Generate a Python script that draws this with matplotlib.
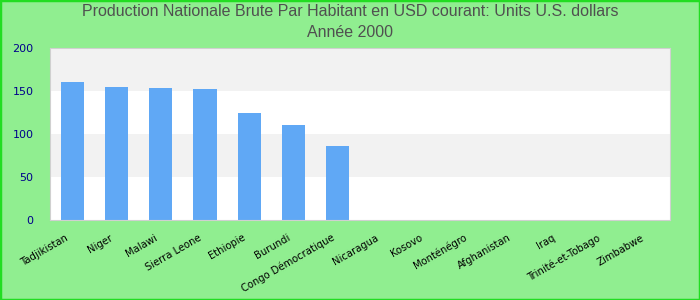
import numpy as np
import matplotlib
matplotlib.use('Agg')
import matplotlib.pyplot as plt
import matplotlib.transforms as mtransforms
from matplotlib.patches import Rectangle

countries = ['Tadjikistan', 'Niger', 'Malawi', 'Sierra Leone', 'Ethiopie', 'Burundi',
             'Congo Démocratique', 'Nicaragua', 'Kosovo', 'Monténégro', 'Afghanistan',
             'Iraq', 'Trinité-et-Tobago', 'Zimbabwe']
values = [160.5, 154.7, 153.5, 152.3, 124.4, 110.5, 86, 0, 0, 0, 0, 0, 0, 0]
yticks = [0, 50, 100, 150, 200]

fig = plt.figure(figsize=(7, 3), dpi=100, facecolor='#90ee90')
ax = fig.add_axes([50/700, 80/300, 620/700, 172/300])
ax.set_facecolor('white')

# alternating horizontal bands
for i in range(len(yticks) - 1):
    if i % 2 == 1:
        ax.axhspan(yticks[i], yticks[i+1], color='#f2f2f2', zorder=0, lw=0)

x = np.arange(len(countries))
ax.bar(x, values, width=0.52, color='#60a8f5', zorder=2)
ax.set_xlim(-0.5, len(countries) - 0.5)
ax.set_ylim(0, 200)
ax.set_yticks(yticks)
ax.set_xticks(x)
ax.set_xticklabels(countries, rotation=30, ha='right', rotation_mode='anchor', fontsize=7.2)
ax.tick_params(axis='y', length=0, colors='#00008b', labelsize=8, pad=12)
ax.tick_params(axis='x', length=0, pad=9)
shift = mtransforms.ScaledTranslation(-5/72, 0, fig.dpi_scale_trans)
for lbl in ax.get_xticklabels():
    lbl.set_transform(lbl.get_transform() + shift)
for s in ax.spines.values():
    s.set_color('#d0d0d0')

fig.suptitle('Production Nationale Brute Par Habitant en USD courant: Units U.S. dollars\nAnnée 2000',
             y=0.985, fontsize=11.5, color='#505050', family='Liberation Sans', linespacing=1.45)

fig.add_artist(Rectangle((0, 0), 1, 1, transform=fig.transFigure, fill=False,
                         edgecolor='#22dd22', lw=2.5))
fig.savefig('out.png', dpi=100, facecolor=fig.get_facecolor())
